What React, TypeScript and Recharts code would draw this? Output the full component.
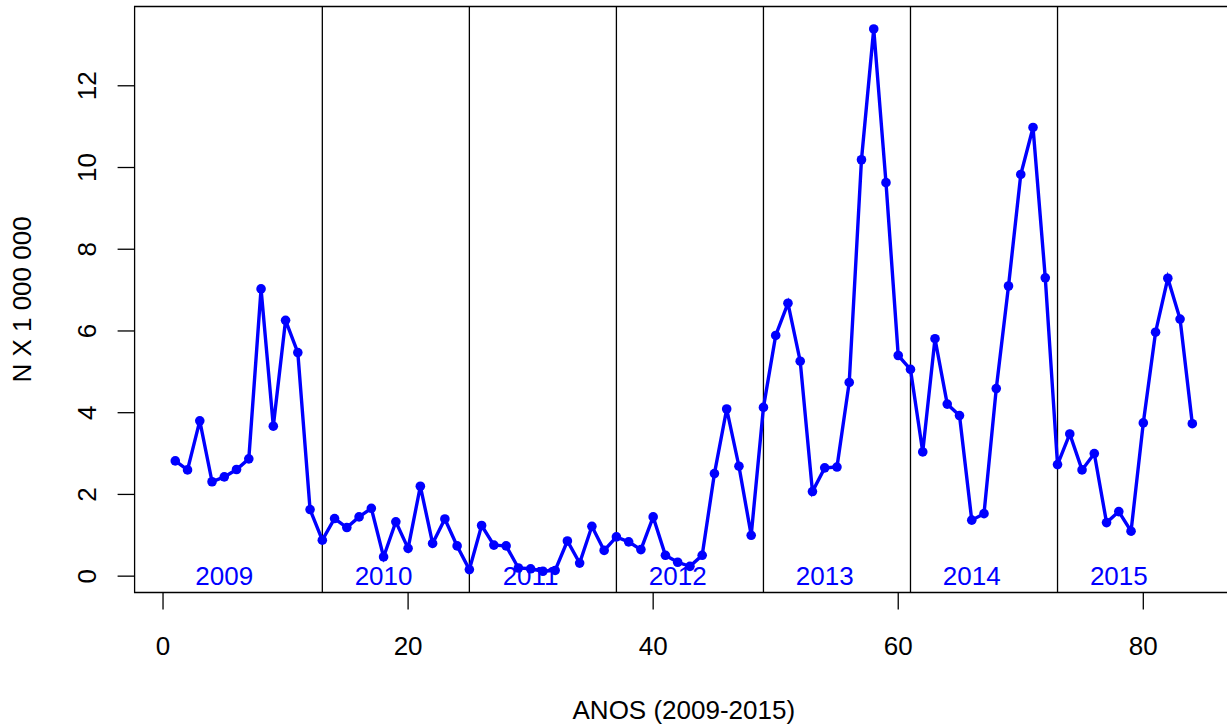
import { LineChart, Line, XAxis, YAxis, ReferenceLine, ReferenceArea, ReferenceDot } from 'recharts';

// monthly totals, Jan 2009 .. Dec 2015 (N x 1 000 000)
const values = [
  2.82, 2.6, 3.8, 2.31, 2.43, 2.61, 2.87, 7.03, 3.67, 6.26, 5.47, 1.63,
  0.88, 1.41, 1.19, 1.45, 1.66, 0.47, 1.33, 0.68, 2.2, 0.8, 1.4, 0.74,
  0.16, 1.24, 0.76, 0.74, 0.2, 0.18, 0.12, 0.14, 0.86, 0.32, 1.22, 0.63,
  0.96, 0.84, 0.65, 1.45, 0.51, 0.34, 0.24, 0.51, 2.51, 4.09, 2.69, 1.0,
  4.13, 5.89, 6.68, 5.26, 2.07, 2.65, 2.67, 4.74, 10.19, 13.39, 9.63, 5.4,
  5.06, 3.04, 5.81, 4.21, 3.93, 1.37, 1.53, 4.59, 7.1, 9.83, 10.98, 7.3,
  2.73, 3.48, 2.6, 3.0, 1.31, 1.58, 1.1, 3.75, 5.97, 7.29, 6.29, 3.73,
];

const yearBreaks = [13, 25, 37, 49, 61, 73];
const years = ['2009', '2010', '2011', '2012', '2013', '2014', '2015'];
const yearLabelX = [5, 18, 30, 42, 54, 66, 78];
const xTicks = [0, 20, 40, 60, 80];
const yTicks = [0, 2, 4, 6, 8, 10, 12];

const data = values.map((v, i) => ({ mes: i + 1, valor: v }));

const X_DOMAIN: [number, number] = [-2.32, 87.32];
const Y_DOMAIN: [number, number] = [-0.4, 13.94];
const FONT = '"Liberation Sans", Arial, sans-serif';
const BLUE = '#0000ff';

function YTick(props: any) {
  const { y, payload } = props;
  const cx = 86.7;
  return (
    <text
      x={cx}
      y={y}
      transform={`rotate(-90, ${cx}, ${y})`}
      textAnchor="middle"
      dominantBaseline="central"
      fontSize={26}
      fontFamily={FONT}
      fill="#000"
    >
      {payload.value}
    </text>
  );
}

function YTitle(props: any) {
  const { viewBox } = props;
  const cy = viewBox.y + viewBox.height / 2;
  const cx = 22;
  return (
    <text
      x={cx}
      y={cy}
      transform={`rotate(-90, ${cx}, ${cy})`}
      textAnchor="middle"
      dominantBaseline="central"
      fontSize={26}
      fontFamily={FONT}
      fill="#000"
    >
      N X 1 000 000
    </text>
  );
}

export default function App() {
  return (
    <div
      style={{
        position: 'fixed',
        left: 0,
        top: 0,
        width: 1227,
        height: 727,
        overflow: 'hidden',
        background: '#fff',
        fontFamily: FONT,
      }}
    >
      <LineChart width={1240} height={727} data={data} margin={{ top: 6.5, right: 7, bottom: 0, left: 0 }}>
        <XAxis
          type="number"
          dataKey="mes"
          domain={X_DOMAIN}
          allowDataOverflow
          ticks={xTicks}
          interval={0}
          height={134.5}
          axisLine={false}
          tickLine={{ stroke: '#000', strokeWidth: 1.3 }}
          tickSize={17}
          tickMargin={27}
          tick={{ fill: '#000', fontSize: 26, fontFamily: FONT }}
          label={{ value: 'ANOS (2009-2015)', position: 'insideBottom', offset: 8, fill: '#000', fontSize: 26, fontFamily: FONT }}
        />
        <YAxis
          type="number"
          domain={Y_DOMAIN}
          allowDataOverflow
          ticks={yTicks}
          interval={0}
          width={134.6}
          axisLine={false}
          tickLine={{ stroke: '#000', strokeWidth: 1.3 }}
          tickSize={17}
          tick={<YTick />}
          label={<YTitle />}
        />
        <ReferenceArea
          x1={X_DOMAIN[0]}
          x2={X_DOMAIN[1]}
          y1={Y_DOMAIN[0]}
          y2={Y_DOMAIN[1]}
          fill="none"
          stroke="#000"
          strokeWidth={1.3}
          fillOpacity={0}
          strokeOpacity={1}
        />
        {yearBreaks.map((b) => (
          <ReferenceLine key={b} x={b} stroke="#000" strokeWidth={1.3} />
        ))}
        {years.map((yr, i) => (
          <ReferenceDot
            key={yr}
            x={yearLabelX[i]}
            y={0}
            r={1}
            fill="none"
            stroke="none"
            label={{ value: yr, position: 'center', fill: BLUE, fontSize: 26, fontFamily: FONT }}
          />
        ))}
        <Line
          type="linear"
          dataKey="valor"
          stroke={BLUE}
          strokeWidth={3.4}
          dot={{ r: 4.8, fill: BLUE, stroke: 'none' }}
          activeDot={false}
          isAnimationActive={false}
        />
      </LineChart>
    </div>
  );
}
